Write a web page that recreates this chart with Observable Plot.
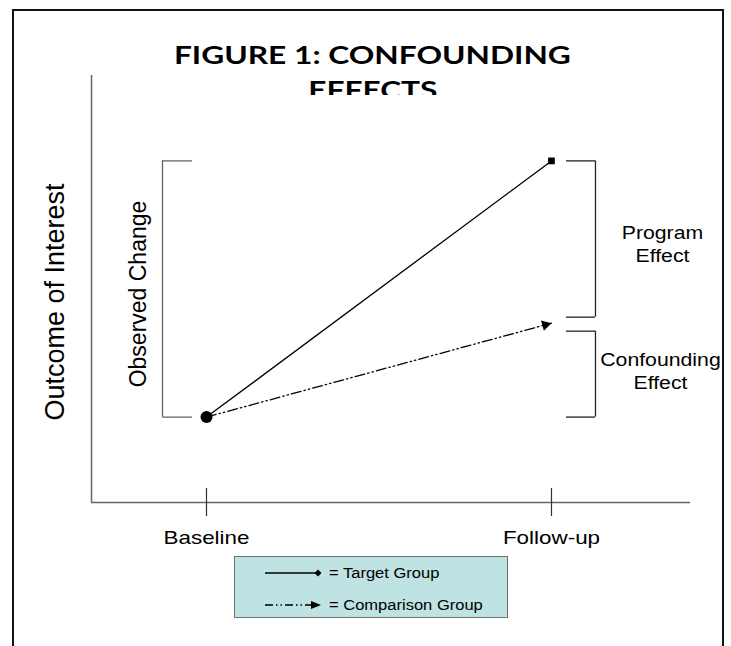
<!DOCTYPE html>
<html>
<head>
<meta charset="utf-8">
<script src="https://cdn.jsdelivr.net/npm/d3@7"></script>
<script src="https://cdn.jsdelivr.net/npm/@observablehq/plot@0.6"></script>
<style>
  body { margin: 0; background: #fff; }
  #wrap { position: relative; width: 731px; height: 646px; overflow: hidden; font-family: "Liberation Sans", Arial, sans-serif; }
  #frame { position: absolute; left: 12px; top: 9px; width: 708px; height: 660px; border: 2px solid #111; border-bottom: none; }
  #chart { position: absolute; left: 0; top: 0; }
  #title { position: absolute; left: 0; top: 0; width: 745px; height: 95px; overflow: hidden; text-align: center;
           font-family: Lato, "Open Sans", sans-serif; font-weight: bold; font-size: 24px; line-height: 35px;
           padding-top: 37px; box-sizing: border-box; color: #000; }
  #title span { display: inline-block; transform: scaleX(1.32); transform-origin: center; }
  #legend { position: absolute; left: 234px; top: 556px; width: 274px; height: 62px; background: #bfe2e2;
            border: 1.5px solid #707070; box-sizing: border-box; }
  #legend svg { position: absolute; left: 0; top: 0; }
</style>
</head>
<body>
<div id="wrap">
  <div id="frame"></div>
  <div id="chart"></div>
  <div id="title"></div>
  <div id="legend"></div>
</div>
<script>
// ---- data ----
const title = ["FIGURE 1: CONFOUNDING", "EFFECTS"];
const timepoints = ["Baseline", "Follow-up"];
const timeX = [0, 1];
const targetValues = [2, 8];
const comparisonValues = [2, 4.2];
const yLabel = "Outcome of Interest";
const observedLabel = "Observed Change";
const programLabel = "Program\nEffect";
const confoundingLabel = "Confounding\nEffect";
const legendLabels = ["= Target Group", "= Comparison Group"];

// ---- tables ----
const ticks = timepoints.map((label, i) => ({label, x: timeX[i]}));
const target = timeX.map((x, i) => ({x, y: targetValues[i]}));
const comparison = timeX.map((x, i) => ({x, y: comparisonValues[i]}));
const base = target[0];
const tEnd = target[1];
const cEnd = comparison[1];

// ---- layout ----
const W = 731, H = 646, mL = 91, mR = 41, mT = 75, mB = 144;
const xDomain = [-1 / 3, 1.403];
const yDomain = [0, 10];

// arrow-head orientation from the scales
const xs = d3.scaleLinear(xDomain, [mL, W - mR]);
const ys = d3.scaleLinear(yDomain, [H - mB, mT]);
const ang = Math.atan2(ys(cEnd.y) - ys(base.y), xs(cEnd.x) - xs(base.x));
const triR = 4;
const tip = 2 * Math.sqrt(triR * triR * Math.PI / (Math.sqrt(3) * 3));

const font = "Liberation Sans, Arial, sans-serif";

const plot = Plot.plot({
  width: W, height: H,
  marginLeft: mL, marginRight: mR, marginTop: mT, marginBottom: mB,
  x: {domain: xDomain, axis: null},
  y: {domain: yDomain, axis: null},
  style: {fontFamily: font, background: "transparent", overflow: "visible", color: "#000"},
  marks: [
    // axes
    Plot.ruleX([xDomain[0]], {stroke: "#666", strokeWidth: 1.5}),
    Plot.ruleY([yDomain[0]], {stroke: "#666", strokeWidth: 1.5}),
    Plot.ruleX(ticks, {x: "x", y1: yDomain[0], y2: yDomain[0], insetTop: -14, insetBottom: -14, stroke: "#333", strokeWidth: 1.2}),
    Plot.text(ticks, {x: "x", y: yDomain[0], dy: 35, text: "label", fontSize: 19, fill: "#000"}),
    Plot.text([yLabel], {frameAnchor: "left", textAnchor: "middle", dx: -36, dy: 13, rotate: -90, fontSize: 27, fill: "#000"}),

    // observed change bracket (baseline → target follow-up)
    Plot.ruleX([base], {x: "x", y1: tEnd.y, y2: base.y, dx: -44, stroke: "#666", strokeWidth: 1.3}),
    Plot.ruleY([base.y, tEnd.y], {y: d => d, x1: base.x, x2: base.x, insetLeft: -44, insetRight: 14, stroke: "#666", strokeWidth: 1.3}),
    Plot.text([observedLabel], {x: base.x, y: (base.y + tEnd.y) / 2, dx: -68, dy: 5, rotate: -90, fontSize: 23, fill: "#000"}),

    // program effect bracket (comparison → target at follow-up)
    Plot.ruleX([tEnd], {x: "x", y1: tEnd.y, y2: cEnd.y, insetBottom: 6, dx: 44, stroke: "#222", strokeWidth: 1.3}),
    Plot.ruleY([tEnd.y], {y: d => d, x1: tEnd.x, x2: tEnd.x, insetLeft: 15, insetRight: -44, stroke: "#222", strokeWidth: 1.3}),
    Plot.ruleY([cEnd.y], {y: d => d, x1: tEnd.x, x2: tEnd.x, insetLeft: 15, insetRight: -44, dy: -6, stroke: "#222", strokeWidth: 1.3}),
    Plot.text([programLabel], {x: tEnd.x, y: (tEnd.y + cEnd.y) / 2, dx: 111, dy: 1, fontSize: 18, lineHeight: 1.3, fill: "#000"}),

    // confounding effect bracket (baseline → comparison at follow-up)
    Plot.ruleX([cEnd], {x: "x", y1: cEnd.y, y2: base.y, insetTop: 8, dx: 44, stroke: "#222", strokeWidth: 1.3}),
    Plot.ruleY([cEnd.y], {y: d => d, x1: cEnd.x, x2: cEnd.x, insetLeft: 15, insetRight: -44, dy: 8, stroke: "#222", strokeWidth: 1.3}),
    Plot.ruleY([base.y], {y: d => d, x1: cEnd.x, x2: cEnd.x, insetLeft: 15, insetRight: -44, stroke: "#222", strokeWidth: 1.3}),
    Plot.text([confoundingLabel], {x: cEnd.x, y: (cEnd.y + base.y) / 2, dx: 109, fontSize: 18, lineHeight: 1.3, fill: "#000"}),

    // series
    Plot.line(comparison, {x: "x", y: "y", stroke: "#000", strokeWidth: 1.3, strokeDasharray: "10 3 1.5 3 1.5 3"}),
    Plot.line(target, {x: "x", y: "y", stroke: "#000", strokeWidth: 1.3}),
    Plot.dot([cEnd], {x: "x", y: "y", symbol: "triangle", r: triR, fill: "#000", stroke: "none",
                      rotate: ang * 180 / Math.PI + 90, dx: -tip * Math.cos(ang), dy: -tip * Math.sin(ang)}),
    Plot.dot([tEnd], {x: "x", y: "y", symbol: "square", r: 3.8, fill: "#000", stroke: "none"}),
    Plot.dot([base], {x: "x", y: "y", r: 6, fill: "#000", stroke: "none"})
  ]
});
document.getElementById("chart").appendChild(plot);

// title
const t = document.getElementById("title");
title.forEach((line, i) => {
  const s = document.createElement("span");
  s.textContent = line;
  t.appendChild(s);
  if (i < title.length - 1) t.appendChild(document.createElement("br"));
});

// legend
const lg = d3.select("#legend").append("svg").attr("width", 272).attr("height", 60);
lg.append("line").attr("x1", 30).attr("x2", 83).attr("y1", 16).attr("y2", 16).attr("stroke", "#000").attr("stroke-width", 1.3);
lg.append("path").attr("d", "M83,12.5L86.5,16L83,19.5L79.5,16Z").attr("fill", "#000");
lg.append("line").attr("x1", 30).attr("x2", 78).attr("y1", 48).attr("y2", 48).attr("stroke", "#000").attr("stroke-width", 1.3).attr("stroke-dasharray", "8 3 1.5 3 1.5 3");
lg.append("path").attr("d", "M86,48L76,44L76,52Z").attr("fill", "#000");
legendLabels.forEach((txt, i) => {
  lg.append("text").attr("x", 94).attr("y", i === 0 ? 16 : 48).attr("dy", "0.35em")
    .attr("font-family", font).attr("font-size", 14).attr("fill", "#000").text(txt);
});

// horizontal stretch of upright labels (the reference text is drawn wide)
function stretch(svg, k) {
  svg.querySelectorAll("text").forEach(el => {
    const tr = el.getAttribute("transform") || "";
    if (tr.includes("rotate")) return;
    const parts = el.querySelectorAll("tspan");
    const targets = parts.length ? Array.from(parts) : [el];
    targets.forEach(p => {
      const w = p.getComputedTextLength();
      if (w > 0) { p.setAttribute("textLength", w * k); p.setAttribute("lengthAdjust", "spacingAndGlyphs"); }
    });
  });
}
stretch(plot, 1.18);
stretch(lg.node(), 1.18);
</script>
</body>
</html>
